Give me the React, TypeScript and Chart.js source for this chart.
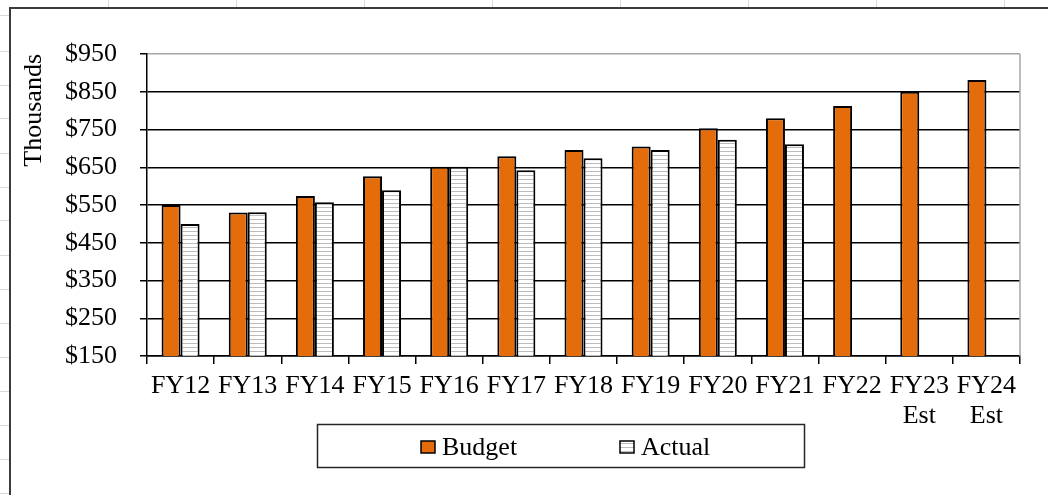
import React, { useEffect, useRef } from 'react';
import { Chart, registerables } from 'chart.js';

Chart.register(...registerables);

// Fiscal years on the category axis (estimates carry a second line)
const categories: (string | string[])[] = [
  'FY12', 'FY13', 'FY14', 'FY15', 'FY16', 'FY17', 'FY18', 'FY19', 'FY20', 'FY21', 'FY22',
  ['FY23', 'Est'], ['FY24', 'Est'],
];

// Values in thousands of dollars
const budgetValues: number[] = [550, 530, 574, 626, 651, 679, 696, 705, 753, 780, 812, 850, 881];
const actualValues: (number | null)[] = [500, 531, 557, 589, 651, 642, 674, 696, 723, 711, null, null, null];

const seriesNames = ['Budget', 'Actual'];
const axisTitle = 'Thousands';
const yMin = 150;
const yMax = 950;
const yStep = 100;

const FONT_FAMILY = "'Liberation Serif', 'Times New Roman', serif";
const ORANGE = '#E46C0A';

function makeStripePattern(): CanvasPattern | string {
  const tile = document.createElement('canvas');
  tile.width = 4;
  tile.height = 4;
  const p = tile.getContext('2d');
  if (!p) return '#ffffff';
  p.fillStyle = '#ffffff';
  p.fillRect(0, 0, 4, 4);
  p.fillStyle = '#bcbcbc';
  p.fillRect(0, 3, 4, 1);
  return p.createPattern(tile, 'repeat') || '#ffffff';
}

// Worksheet cells behind the chart object and the chart's outer frame
const sheetBackground = {
  id: 'sheetBackground',
  beforeDraw(chart: any) {
    const { ctx, width, height } = chart;
    ctx.save();
    ctx.fillStyle = '#ffffff';
    ctx.fillRect(0, 0, width, height);
    ctx.fillStyle = '#d9d9d9';
    [108, 236, 364, 492, 620, 748, 876, 1004].forEach((x) => ctx.fillRect(x, 0, 1, 8));
    [15, 51, 85, 118, 153, 187, 220, 255, 289, 323, 357, 391, 425, 459, 493].forEach((y) =>
      ctx.fillRect(0, y, 9, 1)
    );
    ctx.fillStyle = '#3c3c3c';
    ctx.fillRect(9, 7, width - 9, 2);
    ctx.fillRect(9, 7, 2, height - 7);
    ctx.restore();
  },
};

// Light plot-area border on the right side
const plotBorder = {
  id: 'plotBorder',
  beforeDatasetsDraw(chart: any) {
    const { ctx, chartArea } = chart;
    ctx.save();
    ctx.strokeStyle = '#a6a6a6';
    ctx.lineWidth = 1.5;
    ctx.beginPath();
    ctx.moveTo(chartArea.right, chartArea.top);
    ctx.lineTo(chartArea.right, chartArea.bottom);
    ctx.stroke();
    ctx.restore();
  },
};

// Boxed legend below the axis
const boxedLegend = {
  id: 'boxedLegend',
  afterDraw(chart: any) {
    const { ctx } = chart;
    const box = { x: 317.5, y: 424.5, w: 487, h: 43 };
    const itemX = [421, 620];
    ctx.save();
    ctx.strokeStyle = '#262626';
    ctx.lineWidth = 1.5;
    ctx.strokeRect(box.x, box.y, box.w, box.h);
    ctx.font = `26px ${FONT_FAMILY}`;
    ctx.textBaseline = 'alphabetic';
    ctx.textAlign = 'left';
    chart.data.datasets.forEach((ds: any, i: number) => {
      const x = itemX[i];
      ctx.fillStyle = ds.backgroundColor;
      ctx.fillRect(x, 441, 14, 12);
      ctx.strokeStyle = '#000000';
      ctx.lineWidth = 1.5;
      ctx.strokeRect(x, 441, 14, 12);
      ctx.fillStyle = '#000000';
      ctx.fillText(ds.label, x + 21, 455);
    });
    ctx.restore();
  },
};

export default function App() {
  const canvasRef = useRef<HTMLCanvasElement | null>(null);

  useEffect(() => {
    const canvas = canvasRef.current;
    if (!canvas) return;
    const stripes = makeStripePattern();

    const chart = new Chart(canvas, {
      type: 'bar',
      data: {
        labels: categories,
        datasets: [
          {
            label: seriesNames[0],
            data: budgetValues,
            backgroundColor: ORANGE,
            borderColor: '#000000',
            borderWidth: 2,
          },
          {
            label: seriesNames[1],
            data: actualValues,
            backgroundColor: stripes as any,
            borderColor: '#000000',
            borderWidth: 2,
          },
        ],
      },
      options: {
        animation: false,
        responsive: false,
        devicePixelRatio: 1,
        datasets: {
          bar: { categoryPercentage: 0.566, barPercentage: 1.0 },
        },
        layout: { padding: { top: 54, right: 28, bottom: 0, left: 19 } },
        plugins: {
          legend: { display: false },
          tooltip: { enabled: false },
        },
        scales: {
          x: {
            offset: true,
            grid: {
              display: true,
              drawOnChartArea: false,
              drawTicks: true,
              tickLength: 8,
              color: '#000000',
              lineWidth: 1.5,
            },
            border: { display: true, color: '#000000', width: 1.5 },
            ticks: {
              color: '#000000',
              padding: 7,
              maxRotation: 0,
              autoSkip: false,
              font: { family: FONT_FAMILY, size: 26, lineHeight: 1.15 },
            },
            afterFit(scale: any) {
              scale.height = 139;
            },
          },
          y: {
            min: yMin,
            max: yMax,
            ticks: {
              stepSize: yStep,
              color: '#000000',
              padding: 23,
              font: { family: FONT_FAMILY, size: 26 },
              callback: (v: any) => '$' + v,
            },
            grid: {
              color: (c: any) => (c.tick && c.tick.value === yMax ? '#a6a6a6' : '#000000'),
              tickColor: '#000000',
              lineWidth: 1.5,
              tickLength: 7,
            },
            border: { display: true, color: '#000000', width: 1.5 },
            title: {
              display: true,
              text: axisTitle,
              align: 'end',
              color: '#000000',
              padding: 0,
              font: { family: FONT_FAMILY, size: 26, lineHeight: 1.2 },
            },
            afterFit(scale: any) {
              scale.width = 128;
            },
          },
        },
      },
      plugins: [sheetBackground, plotBorder, boxedLegend],
    });

    return () => chart.destroy();
  }, []);

  return (
    <div style={{ position: 'absolute', left: 0, top: 0, width: 1048, height: 495 }}>
      <canvas ref={canvasRef} width={1048} height={495} style={{ display: 'block' }} />
    </div>
  );
}
